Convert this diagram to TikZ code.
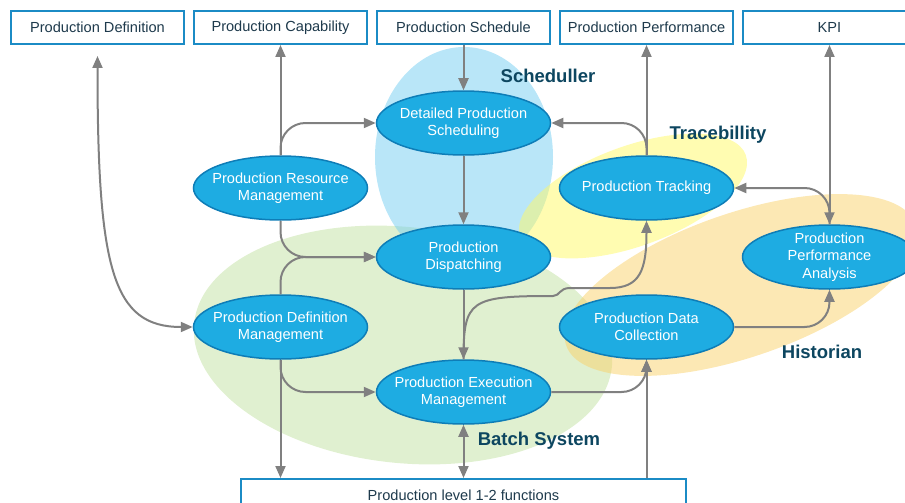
\documentclass[tikz,border=0pt]{standalone}
\usepackage{fontspec}
\setmainfont{Liberation Sans}
\usetikzlibrary{shapes.geometric,arrows.meta}
\definecolor{procblue}{RGB}{30,172,226}
\definecolor{procedge}{RGB}{14,125,183}
\definecolor{boxedge}{RGB}{27,139,197}
\definecolor{boxtext}{RGB}{30,58,76}
\definecolor{grouptext}{RGB}{13,70,96}
\definecolor{flowgray}{RGB}{128,128,128}
\definecolor{schedfill}{RGB}{115,205,241}
\definecolor{batchfill}{RGB}{193,225,161}
\definecolor{tracefill}{RGB}{255,249,100}
\definecolor{histfill}{RGB}{249,209,105}
\begin{document}
\begin{tikzpicture}
        [x=1pt,y=-1pt,
        boxdecorate/.style={shape=rectangle,draw=boxedge,line width=2pt,fill=white,minimum width=173pt,minimum height=33pt,inner sep=0pt,text=boxtext,font=\fontsize{14.6}{17.5}\selectfont},%
        procdecorate/.style={shape=ellipse,draw=procedge,line width=1.5pt,fill=procblue,minimum width=174pt,minimum height=64pt,inner xsep=-12pt,inner ysep=-6pt,text=white,align=center,font=\fontsize{14.6}{17.5}\selectfont},%
        blobdecorate/.style={fill opacity=0.5},%
        groupdecorate/.style={text=grouptext,font=\fontsize{18.5}{22}\selectfont\bfseries},%
        arrowdecorate/.style={-{Triangle[length=12pt,width=10pt]},draw=flowgray,line width=2pt},%
        bothdecorate/.style={{Triangle[length=12pt,width=10pt]}-{Triangle[length=12pt,width=10pt]},draw=flowgray,line width=2pt}]
        \useasboundingbox (0,0) rectangle (905,503);
        %% system areas
        \fill[batchfill,blobdecorate,rotate around={-6:(403,345)}] (403,345) ellipse [x radius=210pt,y radius=118pt];
        \fill[schedfill,blobdecorate] (464,157) ellipse [x radius=89pt,y radius=110pt];
        \fill[tracefill,blobdecorate,rotate around={20:(633,196)}] (633,196) ellipse [x radius=120pt,y radius=50pt];
        \fill[histfill,blobdecorate,rotate around={19:(741,285)}] (741,285) ellipse [x radius=185pt,y radius=72pt];
        \foreach \groupname/\x/\y in {Scheduller/548/76, Tracebillity/718/135, Historian/822/352, Batch System/539/441}
        {
          \node at (\x,\y) [groupdecorate] {\groupname};
        }
        %% information boxes
        \foreach \nodename/\x/\caption in {pd/97.5/Production Definition, pc/280.5/Production Capability,
          ps/463.5/Production Schedule, pp/646.5/Production Performance, kpi/829.5/KPI}
        {
          \node (\nodename) at (\x,27.5) [boxdecorate] {\caption};
        }
        \node (base) at (463.5,495.5) [boxdecorate,minimum width=445pt] {Production level 1-2 functions};
        %% activities
        \foreach \nodename/\x/\y/\caption in {dps/463.5/123/Detailed Production\\Scheduling,
          prm/280.5/188/Production Resource\\Management, trk/646.5/188/Production Tracking,
          disp/463.5/257/Production\\Dispatching, ppa/829.5/257/Production\\Performance\\Analysis,
          pdm/280.5/327/Production Definition\\Management, pdc/646.5/327/Production Data\\Collection,
          pem/463.5/392/Production Execution\\Management}
        {
          \node (\nodename) at (\x,\y) [procdecorate] {\caption};
        }
        %% flows
        \path
        \foreach \startnode/\endnode in {ps/dps, dps/disp, disp/pem, prm/pc, trk/pp}
        {
          (\startnode) edge[arrowdecorate] (\endnode)
        };
        \foreach \startnode/\endnode in {prm.north/dps.west, prm.south/disp.west, pdm.north/disp.west,
          pdm.south/pem.west, trk.north/dps.east, ppa.north/trk.east}
        {
          \draw[arrowdecorate,rounded corners=25pt] (\startnode) |- (\endnode);
        }
        \foreach \startnode/\endnode in {pem.east/pdc.south, pdc.east/ppa.south}
        {
          \draw[arrowdecorate,rounded corners=25pt] (\startnode) -| (\endnode);
        }
        \draw[arrowdecorate] (pdm.south) -- (pdm.south |- base.north);
        \draw[arrowdecorate] (pdc.south |- base.north) -- (pdc.south);
        \draw[bothdecorate] (pem.south) -- (pem.south |- base.north);
        \draw[bothdecorate] (kpi.south) -- (ppa.north);
        \draw[bothdecorate,shorten <=11pt] (pd.south) .. controls +(0,225) and +(-80,0) .. (pdm.west);
        \draw[arrowdecorate] (pem.north) .. controls (463.5,300) and (470,296) .. (553,296)
          .. controls (560,296) and (559,288) .. (570,288) -- (610,288)
          .. controls (640,288) and (646.5,270) .. (trk.south);
      \end{tikzpicture}
\end{document}
